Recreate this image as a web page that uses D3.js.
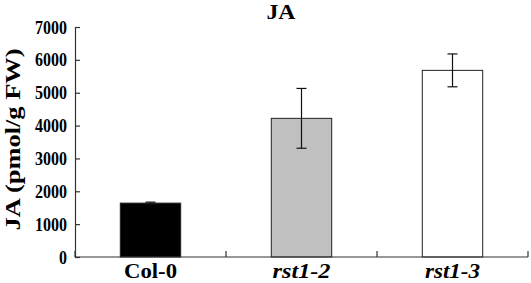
<!DOCTYPE html>
<html>
<head>
<meta charset="utf-8">
<script src="https://cdn.jsdelivr.net/npm/d3@7"></script>
<style>
  body { margin: 0; background: #fff; }
  text { font-family: "Liberation Serif", "Times New Roman", serif; font-weight: bold; }
</style>
</head>
<body>
<div id="chart"></div>
<script>
// Data
const genotypes = ["Col-0", "rst1-2", "rst1-3"];
const jaValues = [1640, 4220, 5680];
const jaErrors = [30, 910, 500];
const barColors = ["#000000", "#c0c0c0", "#ffffff"];
const yTicks = [0, 1000, 2000, 3000, 4000, 5000, 6000, 7000];
const labelWidths = [53, 58, 55];

const margin = { top: 27, right: 3, bottom: 26, left: 75 };
const width = 531 - margin.left - margin.right;
const height = 283 - margin.top - margin.bottom;

const svg = d3.select("#chart").append("svg")
    .attr("width", 531)
    .attr("height", 283)
  .append("g")
    .attr("transform", `translate(${margin.left},${margin.top})`);

const x = d3.scaleBand()
    .domain(genotypes)
    .range([0, width])
    .paddingInner(0.6)
    .paddingOuter(0.3);

const y = d3.scaleLinear()
    .domain([0, 7000])
    .range([height, 0]);

// Bars
svg.selectAll("rect.bar")
    .data(genotypes)
    .enter().append("rect")
    .attr("class", "bar")
    .attr("x", d => x(d))
    .attr("y", (d, i) => y(jaValues[i]))
    .attr("width", x.bandwidth())
    .attr("height", (d, i) => height - y(jaValues[i]))
    .attr("fill", (d, i) => barColors[i])
    .attr("stroke", "#222")
    .attr("stroke-width", 1);

// Error bars
const err = svg.selectAll("g.err")
    .data(genotypes)
    .enter().append("g")
    .attr("class", "err")
    .attr("stroke", "#111")
    .attr("stroke-width", 1.2);

err.append("line")
    .attr("x1", d => x(d) + x.bandwidth() / 2)
    .attr("x2", d => x(d) + x.bandwidth() / 2)
    .attr("y1", (d, i) => y(jaValues[i] + jaErrors[i]))
    .attr("y2", (d, i) => y(jaValues[i] - jaErrors[i]));

[1, -1].forEach(s => {
  err.append("line")
      .attr("x1", d => x(d) + x.bandwidth() / 2 - 5)
      .attr("x2", d => x(d) + x.bandwidth() / 2 + 5)
      .attr("y1", (d, i) => y(jaValues[i] + s * jaErrors[i]))
      .attr("y2", (d, i) => y(jaValues[i] + s * jaErrors[i]));
});

// Y axis (ticks inward)
const yAxis = svg.append("g")
    .call(d3.axisLeft(y).tickValues(yTicks).tickFormat(d3.format("d"))
      .tickSizeInner(-5).tickSizeOuter(-5).tickPadding(8));
yAxis.selectAll("text")
    .style("font-size", "18px")
    .attr("dy", "0.34em")
    .attr("fill", "#000")
    .attr("textLength", d => String(d).length * 8)
    .attr("lengthAdjust", "spacingAndGlyphs");
yAxis.selectAll("line, path").attr("stroke", "#333").attr("stroke-width", 1.2);

// X axis: tick marks at category boundaries, pointing up
const xAxisG = svg.append("g").attr("transform", `translate(0,${height})`);
xAxisG.append("line")
    .attr("x1", 0).attr("x2", width)
    .attr("stroke", "#333").attr("stroke-width", 1.2);
const step = width / genotypes.length;
xAxisG.selectAll("line.tick")
    .data(d3.range(genotypes.length + 1))
    .enter().append("line")
    .attr("class", "tick")
    .attr("x1", d => d * step).attr("x2", d => d * step)
    .attr("y1", 0).attr("y2", -6)
    .attr("stroke", "#333").attr("stroke-width", 1.2);

xAxisG.selectAll("text.label")
    .data(genotypes)
    .enter().append("text")
    .attr("class", "label")
    .attr("x", d => x(d) + x.bandwidth() / 2)
    .attr("y", 21)
    .attr("text-anchor", "middle")
    .style("font-size", "20px")
    .style("font-style", (d, i) => i === 0 ? "normal" : "italic")
    .attr("textLength", (d, i) => labelWidths[i])
    .attr("lengthAdjust", "spacingAndGlyphs")
    .text(d => d);

// Title
svg.append("text")
    .attr("x", 206)
    .attr("y", -8.5)
    .attr("text-anchor", "middle")
    .style("font-size", "21px")
    .attr("textLength", 29)
    .attr("lengthAdjust", "spacingAndGlyphs")
    .text("JA");

// Y label
svg.append("text")
    .attr("transform", "rotate(-90)")
    .attr("x", -(139.5 - margin.top))
    .attr("y", -margin.left + 19.5)
    .attr("text-anchor", "middle")
    .style("font-size", "20px")
    .attr("textLength", 182)
    .attr("lengthAdjust", "spacingAndGlyphs")
    .text("JA (pmol/g FW)");
</script>
</body>
</html>
